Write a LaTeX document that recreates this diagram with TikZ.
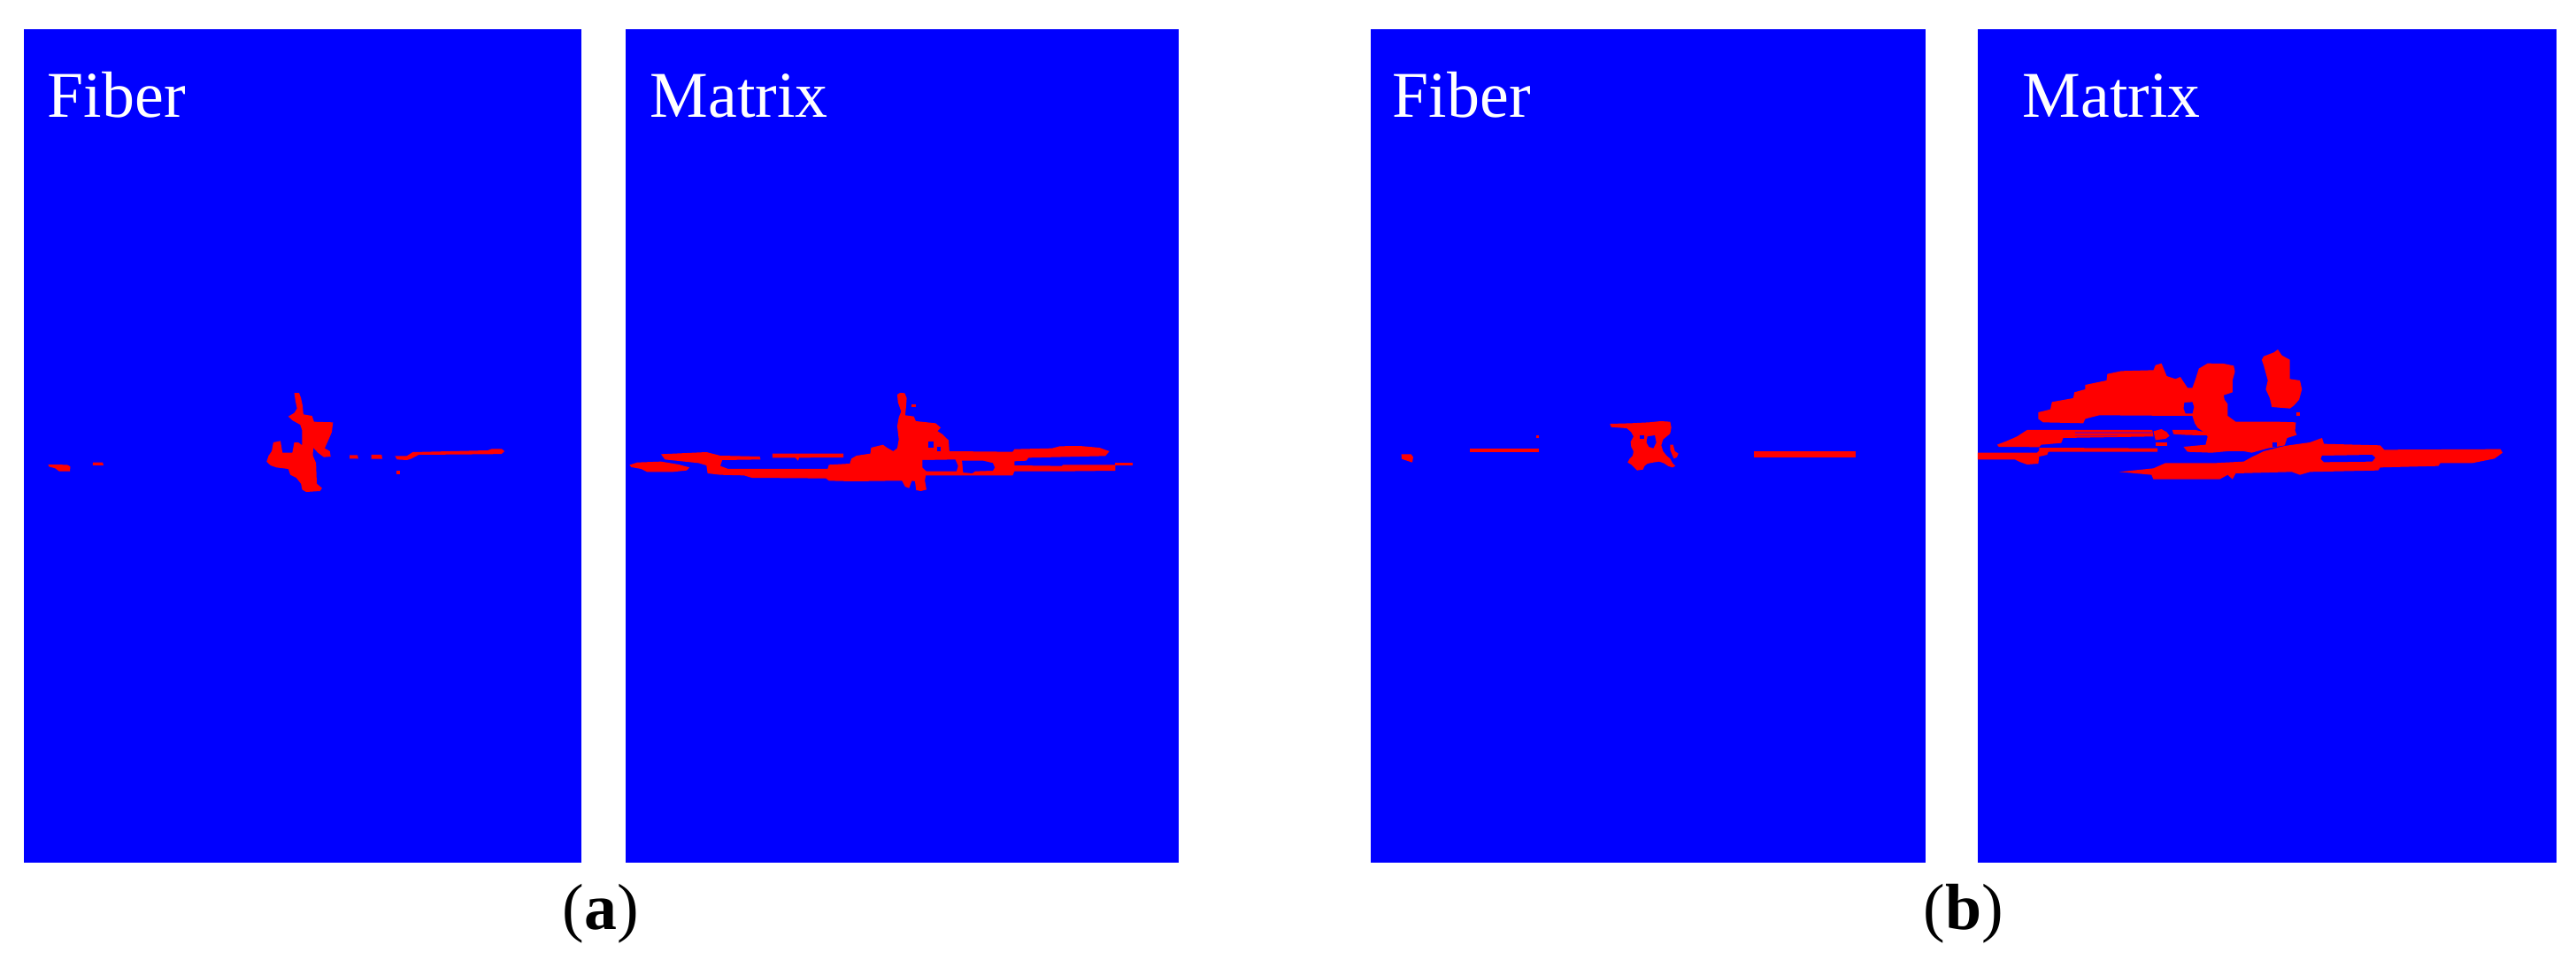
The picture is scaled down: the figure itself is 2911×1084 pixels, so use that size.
\documentclass[tikz,border=0pt]{standalone}
\usepackage{fontspec}
\setmainfont{Liberation Serif}
\definecolor{pblue}{RGB}{0,0,255}
\definecolor{dred}{RGB}{255,0,0}
\definecolor{dmix}{RGB}{170,0,110}
\begin{document}
\begin{tikzpicture}[x=0.01cm,y=-0.01cm,
  panel/.style={fill=pblue,draw=none},
  dmg/.style={fill=dred,draw=none},
  hole/.style={fill=pblue,draw=none},
  mixline/.style={fill=dmix,draw=none},
  lbl/.style={text=white,font=\fontsize{21}{25}\selectfont,anchor=base west,inner sep=0pt},
  captxt/.style={text=black,font=\fontsize{21}{25}\selectfont,anchor=base,inner sep=0pt}]
\useasboundingbox[fill=white] (0,0) rectangle (2911,1084);
% panels
\fill[panel] (27,33) rectangle (657,975);
\fill[panel] (707,33) rectangle (1332,975);
\fill[panel] (1549,33) rectangle (2176,975);
\fill[panel] (2235,33) rectangle (2889,975);

% ---------- (a) Fiber ----------
\begin{scope}[shift={(0,400)},xscale=0.4464,yscale=0.3333]
\fill[dmg] (122,375)--(170,376)--(178,382)--(177,398)--(150,398)--(140,388)--(124,382)--cycle;
\fill[dmg] (235,368)--(260,368)--(262,378)--(235,378)--cycle;
\fill[dmg] (745,132)--(757,132)--(762,150)--(766,175)--(768,205)--(790,210)--(795,230)--(843,232)--(840,265)--(832,290)--(822,320)--(835,330)--(837,348)--(820,350)--(805,335)--(793,318)--(792,345)--(800,370)--(802,440)--(815,455)--(810,465)--(775,468)--(765,460)--(762,440)--(750,420)--(735,410)--(730,390)--(700,385)--(685,378)--(675,365)--(680,345)--(688,330)--(692,300)--(710,295)--(715,335)--(740,335)--(745,300)--(755,300)--(765,310)--(765,260)--(760,240)--(740,225)--(730,212)--(745,200)--(752,185)--(748,160)--cycle;
\fill[dmg] (885,343)--(905,343)--(907,355)--(885,355)--cycle;
\fill[dmg] (940,342)--(966,342)--(968,356)--(940,356)--cycle;
\fill[dmg] (1000,346)--(1030,346)--(1045,333)--(1235,327)--(1245,322)--(1270,322)--(1277,330)--(1270,339)--(1240,340)--(1060,342)--(1040,356)--(1030,360)--(1005,358)--cycle;
\fill[dmg] (1004,397)--(1012,397)--(1012,407)--(1004,407)--cycle;
\end{scope}

% ---------- (a) Matrix ----------
\begin{scope}[shift={(680,400)},xscale=0.4464,yscale=0.3333]
\fill[dmg] (70,377)--(90,368)--(150,365)--(195,375)--(222,385)--(215,395)--(180,400)--(115,400)--(100,390)--(75,384)--cycle;
\fill[dmg] (432,338)--(612,338)--(612,351)--(500,352)--(497,362)--(490,352)--(432,352)--cycle;
\fill[dmg] (150,340)--(265,333)--(300,345)--(400,348)--(402,358)--(305,360)--(300,380)--(320,390)--(572,390)--(575,376)--(628,372)--(632,355)--(645,345)--(680,338)--(682,318)--(712,308)--(722,318)--(738,330)--(748,320)--(752,290)--(748,245)--(752,215)--(758,195)--(750,165)--(748,138)--(755,132)--(767,133)--(772,150)--(770,185)--(768,208)--(790,212)--(795,228)--(845,235)--(858,250)--(850,262)--(862,272)--(878,293)--(880,330)--(1040,332)--(1045,323)--(1140,320)--(1160,313)--(1210,312)--(1260,318)--(1285,330)--(1275,346)--(1080,352)--(1075,362)--(1045,364)--(1045,378)--(1165,380)--(1168,376)--(1300,376)--(1300,396)--(1165,398)--(1045,398)--(1040,412)--(820,412)--(818,430)--(822,460)--(808,465)--(796,462)--(793,432)--(785,430)--(778,455)--(768,450)--(760,430)--(745,430)--(635,432)--(575,430)--(568,422)--(380,420)--(360,412)--(300,410)--(268,405)--(265,378)--(245,370)--(160,358)--cycle;
\fill[hole] (812,360)--(895,358)--(902,380)--(898,398)--(822,398)--(812,385)--cycle;
\fill[hole] (912,362)--(965,362)--(990,370)--(995,385)--(990,396)--(945,398)--(938,405)--(915,402)--cycle;
\fill[hole] (826,298)--(840,298)--(840,318)--(826,318)--cycle;
\fill[hole] (850,314)--(858,314)--(858,330)--(850,330)--cycle;
\fill[dmg] (785,170)--(795,170)--(795,180)--(785,180)--cycle;
\fill[dmg] (1300,369)--(1345,369)--(1345,377)--(1300,377)--cycle;
\end{scope}

% ---------- (b) Fiber ----------
\begin{scope}[shift={(1530,360)},xscale=0.4783,yscale=0.3333]
\fill[dmg] (112,460)--(135,460)--(140,470)--(138,488)--(125,482)--(113,476)--cycle;
\fill[dmg] (273,441)--(437,441)--(437,454)--(273,454)--cycle;
\fill[dmg] (430,396)--(437,396)--(437,405)--(430,405)--cycle;
\fill[dmg] (945,451)--(1185,451)--(1185,470)--(945,470)--cycle;
\end{scope}
\begin{scope}[shift={(1800,460)},xscale=0.3333,yscale=0.3333]
\fill[dmg] (58,57)--(130,55)--(190,52)--(230,48)--(262,50)--(266,70)--(262,90)--(250,100)--(238,110)--(232,130)--(238,150)--(250,165)--(262,175)--(270,190)--(280,200)--(270,205)--(255,200)--(240,190)--(225,185)--(205,188)--(185,192)--(175,200)--(170,212)--(150,215)--(140,205)--(130,195)--(118,188)--(125,175)--(135,165)--(138,150)--(130,135)--(128,118)--(138,100)--(130,85)--(115,72)--(62,68)--cycle;
\fill[hole] (160,95)--(175,95)--(175,108)--(160,108)--cycle;
\fill[hole] (185,100)--(210,96)--(215,120)--(205,140)--(190,135)--(182,120)--cycle;
\fill[dmg] (262,128)--(272,128)--(278,150)--(290,158)--(285,170)--(275,175)--(268,160)--(262,145)--cycle;
\end{scope}

% ---------- (b) Matrix ----------
\begin{scope}[shift={(2200,360)},xscale=0.4534,yscale=0.3333]
\fill[dmg] (228,318)--(258,308)--(262,283)--(315,270)--(318,250)--(345,240)--(345,225)--(398,210)--(400,188)--(435,178)--(515,175)--(520,158)--(535,152)--(548,195)--(570,205)--(582,198)--(590,215)--(600,235)--(612,235)--(620,205)--(628,170)--(650,152)--(690,153)--(715,160)--(718,180)--(712,210)--(712,250)--(690,260)--(692,275)--(700,290)--(700,330)--(720,350)--(825,350)--(870,352)--(868,380)--(872,395)--(848,405)--(842,430)--(800,440)--(760,455)--(740,450)--(700,450)--(660,455)--(600,452)--(590,435)--(645,428)--(650,400)--(640,385)--(625,370)--(618,355)--(612,330)--(590,330)--(380,328)--(345,340)--(340,355)--(240,352)--(228,340)--cycle;
\fill[hole] (592,285)--(612,283)--(616,300)--(612,322)--(595,322)--(590,305)--cycle;
\fill[hole] (812,420)--(822,420)--(822,435)--(812,435)--cycle;
\fill[dmg] (430,520)--(515,508)--(545,490)--(670,490)--(740,485)--(760,470)--(790,450)--(842,432)--(905,420)--(935,405)--(940,425)--(1080,430)--(1090,445)--(1380,443)--(1385,455)--(1365,475)--(1310,490)--(1230,490)--(1225,500)--(1080,505)--(1075,515)--(905,520)--(880,530)--(860,520)--(720,525)--(712,545)--(700,530)--(680,545)--(515,545)--(510,530)--cycle;
\fill[hole] (935,465)--(1060,462)--(1068,472)--(1060,485)--(940,487)--(932,476)--cycle;
\fill[dmg] (125,428)--(150,415)--(175,400)--(200,378)--(512,378)--(515,400)--(290,405)--(285,422)--(235,428)--(230,436)--(130,435)--cycle;
\fill[mixline] (320,384)--(512,384)--(512,389)--(320,389)--cycle;
\fill[mixline] (320,396)--(425,396)--(425,400)--(320,400)--cycle;
\fill[dmg] (230,438)--(525,440)--(525,452)--(230,452)--cycle;
\fill[dmg] (77,455)--(225,455)--(232,445)--(255,445)--(250,462)--(230,468)--(228,492)--(200,495)--(180,485)--(170,478)--(77,478)--cycle;
\fill[dmg] (515,382)--(535,375)--(548,385)--(555,398)--(545,408)--(520,412)--cycle;
\fill[dmg] (520,420)--(550,420)--(550,432)--(520,432)--cycle;
\fill[dmg] (562,378)--(620,378)--(650,388)--(648,396)--(600,395)--(565,392)--cycle;
\fill[dmg] (790,128)--(815,115)--(825,105)--(835,125)--(855,140)--(855,205)--(880,210)--(885,240)--(878,275)--(865,295)--(855,305)--(810,300)--(805,270)--(795,240)--(800,210)--(795,185)--(790,160)--(785,140)--cycle;
\fill[dmg] (872,318)--(880,318)--(880,330)--(872,330)--cycle;
\end{scope}

% labels
\node[lbl] (fa) at (53,132) {Fiber};
\node[lbl] (ma) at (734,132) {Matrix};
\node[lbl] (fb) at (1573,132) {Fiber};
\node[lbl] (mb) at (2285,132) {Matrix};
\node[captxt] (ca) at (679,1050) {(\textbf{a})};
\node[captxt] (cb) at (2219,1050) {(\textbf{b})};
\end{tikzpicture}
\end{document}
